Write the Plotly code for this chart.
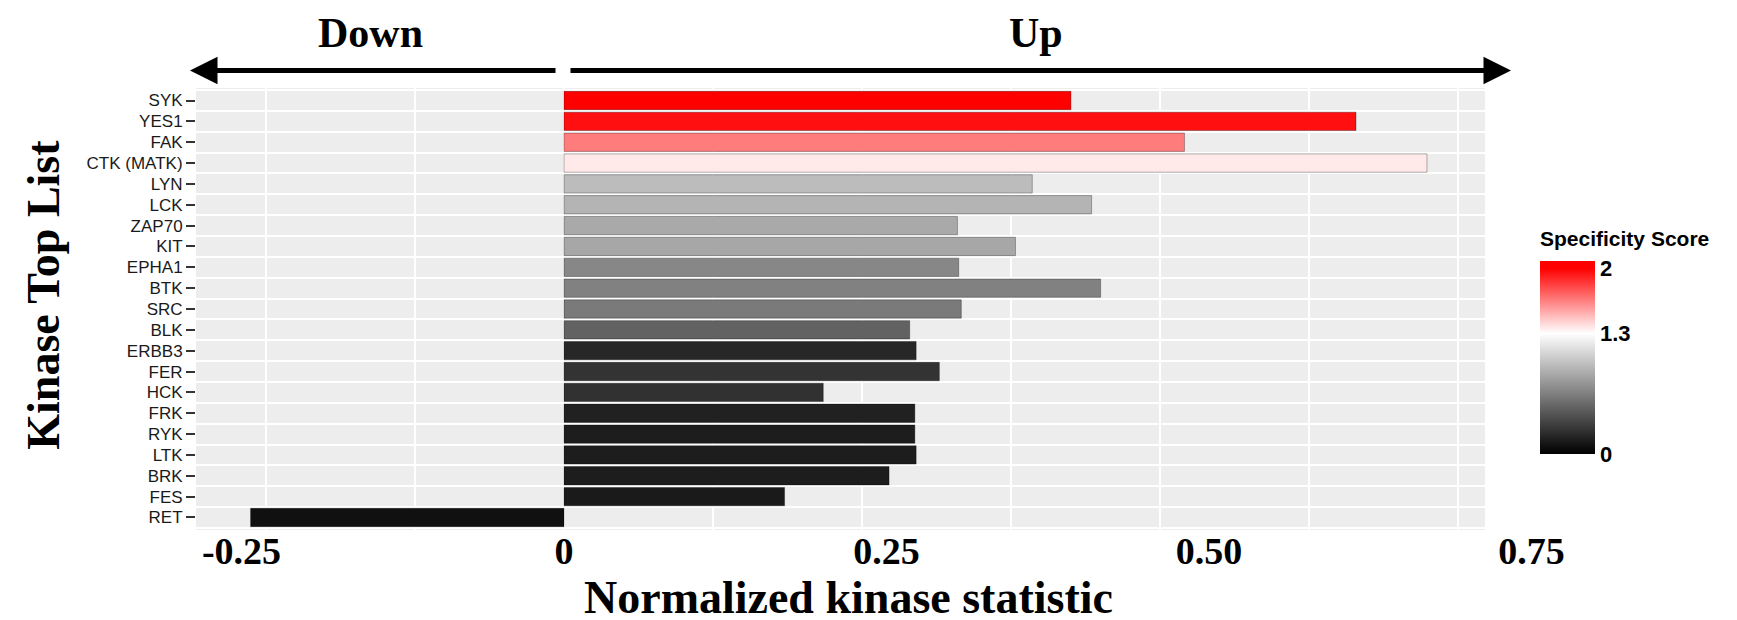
import plotly.graph_objects as go

# ---- data ----
kinases = ["SYK", "YES1", "FAK", "CTK (MATK)", "LYN", "LCK", "ZAP70", "KIT", "EPHA1",
           "BTK", "SRC", "BLK", "ERBB3", "FER", "HCK", "FRK", "RYK", "LTK", "BRK", "FES", "RET"]
norm_stat = [0.393, 0.614, 0.481, 0.669, 0.363, 0.409, 0.305, 0.350, 0.306,
             0.416, 0.308, 0.268, 0.273, 0.291, 0.201, 0.272, 0.272, 0.273, 0.252, 0.171, -0.243]
spec_score = [2.0, 1.96, 1.66, 1.36, 0.96, 0.92, 0.86, 0.85, 0.69,
              0.66, 0.62, 0.50, 0.20, 0.26, 0.25, 0.17, 0.15, 0.15, 0.15, 0.13, 0.08]
x_tickvals = [-0.25, 0, 0.25, 0.5, 0.75]
x_ticktext = ["-0.25", "0", "0.25", "0.50", "0.75"]
cbar_tickvals = [0, 1.3, 2]
cbar_ticktext = ["0", "1.3", "2"]

# colour scale: black (0) -> white (1.3) -> red (2); bar extends a little above 2
C_MIN, C_MID, C_HIGH, C_MAX = 0.0, 1.3, 2.0, 2.08
colorscale = [[0, "#000000"], [C_MID / C_MAX, "#FFFFFF"], [C_HIGH / C_MAX, "#FF0000"], [1, "#FF0000"]]

W, H = 1737, 620
L, R, T, B = 188, 147, 80, 97.5
PW, PH = W - L - R, H - T - B
X_RANGE = [-0.2853, 0.8016]
PANEL_RIGHT = 0.714

def px_x(p):
    return (p - L) / PW

def px_y(p):
    return (H - B - p) / PH

SERIF = "Liberation Serif"
SANS = "Liberation Sans"

fig = go.Figure()
fig.add_trace(go.Bar(
    x=norm_stat, y=kinases, orientation="h", width=0.88,
    marker=dict(
        color=spec_score, cmin=C_MIN, cmax=C_MAX,
        colorscale=colorscale,
        line=dict(color="rgba(0,0,0,0.3)", width=1),
        showscale=True,
        colorbar=dict(
            tickvals=cbar_tickvals, ticktext=cbar_ticktext,
            tickfont=dict(family=SANS, size=22, color="black", weight="bold"),
            ticks="", thickness=55, thicknessmode="pixels",
            len=193, lenmode="pixels",
            xref="paper", x=px_x(1532), xanchor="left",
            yref="paper", y=px_y(253), yanchor="top",
            xpad=0, ypad=0, outlinewidth=0,
        ),
    ),
    hoverinfo="x+y",
))
# empty helper trace so the boundary-grid axis is drawn
fig.add_trace(go.Scatter(x=[], y=[], yaxis="y2", showlegend=False, hoverinfo="skip"))

fig.update_layout(
    width=W, height=H,
    margin=dict(l=L, r=R, t=T, b=B, autoexpand=False),
    paper_bgcolor="white", plot_bgcolor="white",
    showlegend=False,
    xaxis=dict(
        range=X_RANGE, tickvals=x_tickvals, ticktext=x_ticktext,
        showgrid=False, zeroline=False, showline=False, ticks="",
        tickfont=dict(family=SERIF, size=38, color="black", weight="bold"),
        ticklabelstandoff=-5, automargin=False,
        minor=dict(dtick=0.1155, tick0=0, showgrid=True, gridcolor="white", gridwidth=1.5, ticks=""),
    ),
    yaxis=dict(
        categoryorder="array", categoryarray=kinases, range=[20.6, -0.6],
        showgrid=False, zeroline=False, showline=False, automargin=False,
        ticks="outside", ticklen=9, tickwidth=1.5, tickcolor="#333333",
        tickfont=dict(family=SANS, size=17, color="#1a1a1a"),
    ),
    yaxis2=dict(
        overlaying="y", range=[20.6, -0.6], tick0=0.5, dtick=1,
        showgrid=True, gridcolor="white", gridwidth=2,
        showticklabels=False, ticks="", zeroline=False, showline=False,
    ),
    shapes=[
        dict(type="rect", xref="x", yref="y domain", x0=X_RANGE[0], x1=PANEL_RIGHT,
             y0=0, y1=1, fillcolor="#EDEDED", line=dict(width=0), layer="below"),
    ],
    annotations=[
        dict(text="Kinase Top List", xref="paper", yref="paper", x=px_x(36), y=px_y(287),
             textangle=-90, showarrow=False, xanchor="center", yanchor="middle",
             font=dict(family=SERIF, size=46, color="black", weight="bold")),
        dict(text="Normalized kinase statistic", xref="paper", yref="paper",
             x=px_x(840), y=px_y(590), showarrow=False, xanchor="center", yanchor="middle",
             font=dict(family=SERIF, size=46, color="black", weight="bold")),
        dict(text="Down", xref="paper", yref="paper", x=px_x(362), y=px_y(25),
             showarrow=False, xanchor="center", yanchor="middle",
             font=dict(family=SERIF, size=42, color="black", weight="bold")),
        dict(text="Up", xref="paper", yref="paper", x=px_x(1028), y=px_y(25),
             showarrow=False, xanchor="center", yanchor="middle",
             font=dict(family=SERIF, size=42, color="black", weight="bold")),
        dict(text="Specificity Score", xref="paper", yref="paper", x=px_x(1530), y=px_y(231),
             showarrow=False, xanchor="left", yanchor="middle",
             font=dict(family=SANS, size=21, color="black", weight="bold")),
        dict(text="", xref="paper", yref="paper", x=px_x(182), y=px_y(62.5),
             ax=549 - 182, ay=0, axref="pixel", ayref="pixel", showarrow=True,
             arrowhead=2, arrowsize=1.1, arrowwidth=5, arrowcolor="black", standoff=0),
        dict(text="", xref="paper", yref="paper", x=px_x(1503), y=px_y(62.5),
             ax=561 - 1503, ay=0, axref="pixel", ayref="pixel", showarrow=True,
             arrowhead=2, arrowsize=1.1, arrowwidth=5, arrowcolor="black", standoff=0),
    ],
)

fig.write_html("out.html")
